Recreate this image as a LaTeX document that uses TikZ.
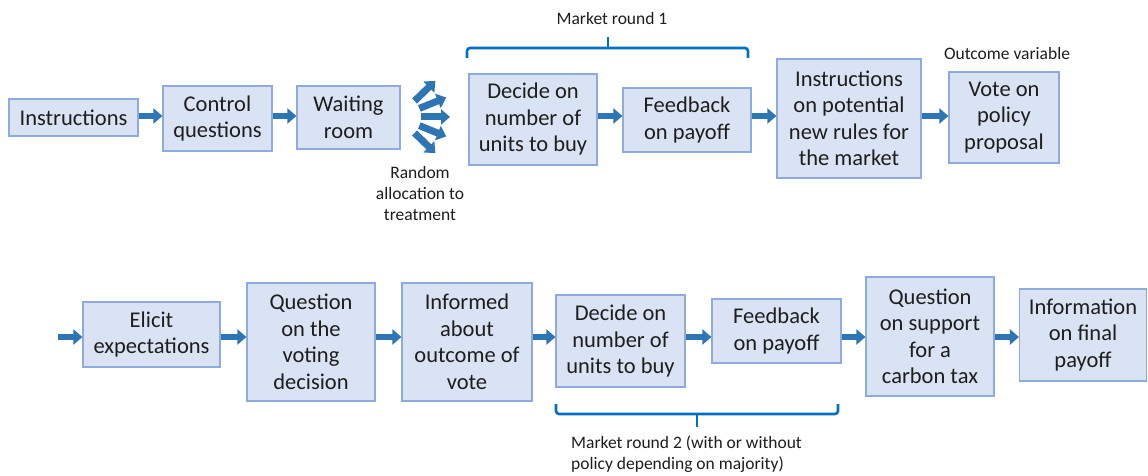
\documentclass[tikz,border=0pt]{standalone}
\usepackage{fontspec}
\setmainfont{Carlito}
\usetikzlibrary{arrows.meta}
\definecolor{boxfill}{HTML}{DAE3F3}
\definecolor{boxline}{HTML}{8FAADC}
\definecolor{flow}{HTML}{2E75B6}
\definecolor{brace}{HTML}{0070C0}
\definecolor{ink}{HTML}{1E1E1E}
\tikzset{
  stage/.style={draw=boxline, fill=boxfill, line width=1.2pt, inner sep=0pt,
    align=center, text=ink, font=\fontsize{22.5}{26.5}\selectfont},
  flowarrow/.style={draw=flow, line width=6.5pt, -{Triangle[length=9pt,width=15pt]}},
  note/.style={text=ink, font=\fontsize{17.5}{21}\selectfont, align=center, inner sep=0pt},
  bracket/.style={draw=brace, line width=2.6pt, rounded corners=3pt},
}
\begin{document}
\begin{tikzpicture}[x=1pt, y=-1pt]
\useasboundingbox (0,0) rectangle (1148,476);
\fill[white] (0,0) rectangle (1148,476);

% rows of the flow
\coordinate (r1) at (0,116);
\coordinate (r2) at (0,337);

% first session part
\node[stage, minimum width=129pt, minimum height=37pt]  (ins)  at (73.5,117.5) {Instructions};
\node[stage, minimum width=109pt, minimum height=65pt]  (ctl)  at (217.5,118.5) {Control\\questions};
\node[stage, minimum width=103pt, minimum height=63pt]  (wait) at (348.5,117.5) {Waiting\\room};
\node[stage, minimum width=128pt, minimum height=91pt]  (dec1) at (533,119.5) {Decide on\\number of\\units to buy};
\node[stage, minimum width=128pt, minimum height=64pt]  (fb1)  at (687,120) {Feedback\\on payoff};
\node[stage, minimum width=144pt, minimum height=119pt] (new)  at (849,118.5) {Instructions\\on potential\\new rules for\\the market};
\node[stage, minimum width=110pt, minimum height=91pt]  (vote) at (1004,117.5) {Vote on\\policy\\proposal};

% second session part
\node[stage, minimum width=137pt, minimum height=65pt]  (eli)  at (151.5,334.5) {Elicit\\expectations};
\node[stage, minimum width=128pt, minimum height=118pt] (qv)   at (311,342) {Question\\on the\\voting\\decision};
\node[stage, minimum width=130pt, minimum height=118pt] (inf)  at (467,342) {Informed\\about\\outcome of\\vote};
\node[stage, minimum width=129pt, minimum height=92pt]  (dec2) at (620.5,341) {Decide on\\number of\\units to buy};
\node[stage, minimum width=129pt, minimum height=64pt]  (fb2)  at (776.5,331) {Feedback\\on payoff};
\node[stage, minimum width=128pt, minimum height=119pt] (tax)  at (930,336.5) {Question\\on support\\for a\\carbon tax};
\node[stage, minimum width=127pt, minimum height=92pt]  (fin)  at (1083,335) {Information\\on final\\payoff};

% annotations
\node[note] (alloc) at (420,193) {Random\\allocation to\\treatment};
\node[note] (mr1) at (612,18) {Market round 1};
\node[note] (outc) at (1007,53) {Outcome variable};
\node[note, anchor=west, align=left] (mr2) at (571,454) {Market round 2 (with or without\\policy depending on majority)};

% connectors, first row
\draw[flowarrow] (ins.east |- r1)  -- (ctl.west |- r1);
\draw[flowarrow] (ctl.east |- r1)  -- (wait.west |- r1);
\draw[flowarrow] (dec1.east |- r1) -- (fb1.west |- r1);
\draw[flowarrow] (fb1.east |- r1)  -- (new.west |- r1);
\draw[flowarrow] (new.east |- r1)  -- (vote.west |- r1);

% random allocation fan
\coordinate (fan) at (398,117);
\foreach \a in {44,22,0,-22,-44}
  \draw[flowarrow, line width=7pt, -{Triangle[length=9pt,width=15pt]}]
    ([shift={(\a:23)}]fan) -- ([shift={(\a:52)}]fan);

% connectors, second row
\coordinate (entry) at (58,337);
\draw[flowarrow] (entry)           -- (eli.west |- r2);
\draw[flowarrow] (eli.east |- r2)  -- (qv.west |- r2);
\draw[flowarrow] (qv.east |- r2)   -- (inf.west |- r2);
\draw[flowarrow] (inf.east |- r2)  -- (dec2.west |- r2);
\draw[flowarrow] (dec2.east |- r2) -- (fb2.west |- r2);
\draw[flowarrow] (fb2.east |- r2)  -- (tax.west |- r2);
\draw[flowarrow] (tax.east |- r2)  -- (fin.west |- r2);

% market round brackets
\draw[bracket] (467,58) -- (467,48) -- (748,48) -- (748,58);
\draw[brace, line width=2.6pt] (608,48) -- (608,37);
\draw[bracket] (556,404) -- (556,414) -- (838,414) -- (838,404);
\draw[brace, line width=2.6pt] (697,414) -- (697,427);
\end{tikzpicture}
\end{document}
